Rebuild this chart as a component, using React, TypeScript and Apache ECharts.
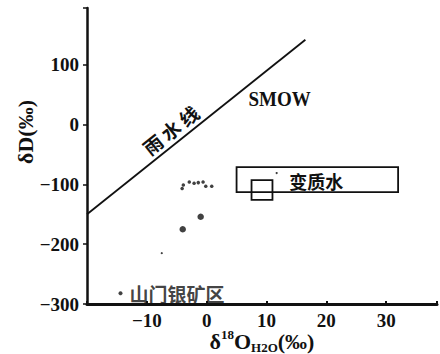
import React, { useEffect, useRef } from 'react';
import * as echarts from 'echarts';

// ---- data ----
const xTickValues = [-10, 0, 10, 20, 30];
const yTickValues = [-300, -200, -100, 0, 100];
const meteoricLine = [[-20, -150], [16.5, 142]];
const samplesSmall = [[-4.1, -107], [-3.9, -101], [-2.9, -96], [-2.1, -98], [-1.4, -97], [-0.6, -96], [-0.15, -103], [0.85, -103]];
const samplesLarge = [[-1.0, -154], [-4.0, -175]];
const specks = [[-7.5, -215], [11.7, -81]];
const legendDot = [[-14.4, -282]];
const metamorphicBox = [[5, -113], [32, -71]];
const magmaticBox = [[7.5, -126], [11, -93]];
const smowAnchor = [12.2, 43];
const metamorphicLabelAnchor = [18.3, -94];
const rainLabelX = -4.6;
const rainChars = ['雨', '水', '线'];

const SERIF = '"Liberation Serif", "DejaVu Serif", serif';
const CJK = '"Noto Sans CJK SC", sans-serif';
const INK = '#111';

const fmtNum = (v: number) => (v < 0 ? '−' + Math.abs(v) : String(v));

export default function App() {
  const ref = useRef<HTMLDivElement>(null);
  useEffect(() => {
    if (!ref.current) return;
    const chart = echarts.init(ref.current, undefined, { renderer: 'svg' });
    chart.setOption({
      animation: false,
      backgroundColor: '#fff',
      grid: { left: 87, right: 0, top: 8, bottom: 50, containLabel: false },
      xAxis: {
        type: 'value', min: -20, max: 38.5, interval: 10,
        splitLine: { show: false },
        axisLine: { onZero: false, lineStyle: { color: INK, width: 3 } },
        axisTick: { inside: true, length: 3, lineStyle: { color: INK, width: 2 } },
        axisLabel: {
          margin: 7, color: INK, fontFamily: SERIF, fontSize: 19, fontWeight: 'bold',
          formatter: (v: number) => (xTickValues.includes(v) ? fmtNum(v) : ''),
        },
      },
      yAxis: {
        type: 'value', min: -300, max: 195, interval: 100,
        splitLine: { show: false },
        axisLine: { onZero: false, lineStyle: { color: INK, width: 2.5 } },
        axisTick: { inside: false, length: 4, lineStyle: { color: INK, width: 1.5 } },
        axisLabel: {
          margin: 8, color: INK, fontFamily: SERIF, fontSize: 19, fontWeight: 'bold',
          formatter: (v: number) => (yTickValues.includes(v) ? fmtNum(v) : ''),
        },
      },
      series: [
        {
          type: 'line', data: meteoricLine, symbol: 'none',
          lineStyle: { color: INK, width: 1.8 },
          markArea: {
            silent: true,
            itemStyle: { color: 'rgba(0,0,0,0)', borderColor: INK, borderWidth: 1.8 },
            data: [
              [{ coord: metamorphicBox[0] }, { coord: metamorphicBox[1] }],
              [{ coord: magmaticBox[0] }, { coord: magmaticBox[1] }],
            ],
          },
        },
        { type: 'scatter', data: samplesSmall, symbolSize: 3.5, itemStyle: { color: INK } },
        { type: 'scatter', data: samplesLarge, symbolSize: 6.5, itemStyle: { color: INK } },
        { type: 'scatter', data: specks, symbolSize: 2.2, itemStyle: { color: INK } },
        {
          type: 'scatter', data: legendDot, symbolSize: 4, itemStyle: { color: INK },
          label: {
            show: true, position: 'right', distance: 7, formatter: '山门银矿区',
            color: INK, fontFamily: CJK, fontWeight: 'bold', fontSize: 19,
          },
        },
      ],
    });

    const p1 = chart.convertToPixel('grid', meteoricLine[0]) as number[];
    const p2 = chart.convertToPixel('grid', meteoricLine[1]) as number[];
    const ang = Math.atan2(-(p2[1] - p1[1]), p2[0] - p1[0]);
    const pc = chart.convertToPixel('grid', [rainLabelX, p1[1]]) as number[];
    const t = (pc[0] - p1[0]) / (p2[0] - p1[0]);
    const cx = p1[0] + t * (p2[0] - p1[0]);
    const cy = p1[1] + t * (p2[1] - p1[1]);
    const off = 14;
    const nx = -Math.sin(ang), ny = -Math.cos(ang);
    const dx = Math.cos(ang), dy = -Math.sin(ang);
    const step = 23;
    const rainEls = rainChars.map((ch, i) => ({
      type: 'text',
      x: cx + nx * off + dx * step * (i - 1),
      y: cy + ny * off + dy * step * (i - 1),
      rotation: ang,
      style: { text: ch, fill: INK, font: `bold 19px ${CJK}`, align: 'center', verticalAlign: 'middle' },
    }));

    const smow = chart.convertToPixel('grid', smowAnchor) as number[];
    const meta = chart.convertToPixel('grid', metamorphicLabelAnchor) as number[];

    chart.setOption({
      graphic: [
        ...rainEls,
        {
          type: 'text', x: smow[0], y: smow[1], scaleY: 1.15,
          style: { text: 'SMOW', fill: INK, font: `bold 19px ${SERIF}`, align: 'center', verticalAlign: 'middle' },
        },
        {
          type: 'text', x: meta[0], y: meta[1],
          style: { text: '变质水', fill: INK, font: `bold 18px ${CJK}`, align: 'center', verticalAlign: 'middle' },
        },
        {
          type: 'text', x: 25, y: 132, rotation: Math.PI / 2,
          style: { text: 'δD(‰)', fill: INK, font: `bold 22px ${SERIF}`, align: 'center', verticalAlign: 'middle' },
        },
        {
          type: 'text', x: 262, y: 341,
          style: {
            text: '{a|δ}{s|18}{a|O}{b|H2O}{a|(‰)}',
            fill: INK, align: 'center', verticalAlign: 'middle',
            rich: {
              a: { fontFamily: SERIF, fontSize: 22, fontWeight: 'bold', lineHeight: 26, fill: INK, color: INK },
              s: { fontFamily: SERIF, fontSize: 13, fontWeight: 'bold', lineHeight: 26, verticalAlign: 'top', fill: INK, color: INK },
              b: { fontFamily: SERIF, fontSize: 13, fontWeight: 'bold', lineHeight: 26, verticalAlign: 'bottom', fill: INK, color: INK },
            },
          },
        },
      ],
    });

    return () => chart.dispose();
  }, []);
  return <div ref={ref} style={{ width: 440, height: 354, position: 'absolute', left: 0, top: 0 }} />;
}
